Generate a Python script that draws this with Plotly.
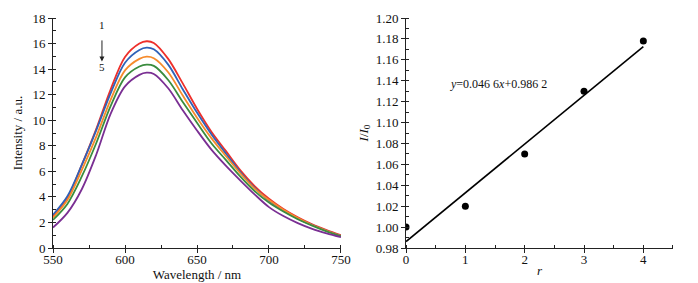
import plotly.graph_objects as go

# ---- data: emission spectra (left) ----
wavelength = [550, 560, 570, 580, 590, 600, 610, 615, 620, 630, 640, 650, 660, 670, 680, 690, 700, 710, 720, 730, 740, 750]
curve1 = [2.45, 3.9, 6.5, 9.3, 12.4, 14.95, 16.0, 16.18, 16.05, 14.8, 12.9, 10.9, 9.1, 7.6, 6.1, 4.85, 3.85, 3.05, 2.4, 1.85, 1.4, 1.0]
curve2 = [2.6, 4.05, 6.5, 9.2, 12.1, 14.5, 15.5, 15.68, 15.55, 14.35, 12.45, 10.6, 8.9, 7.4, 5.95, 4.7, 3.7, 2.95, 2.3, 1.8, 1.35, 0.95]
curve3 = [2.38, 3.75, 6.1, 8.7, 11.6, 13.9, 14.8, 14.97, 14.85, 13.75, 11.95, 10.2, 8.6, 7.2, 5.85, 4.65, 3.75, 3.0, 2.35, 1.8, 1.35, 0.95]
curve4 = [2.2, 3.45, 5.6, 8.2, 11.1, 13.35, 14.2, 14.35, 14.25, 13.15, 11.45, 9.8, 8.2, 6.9, 5.6, 4.45, 3.55, 2.85, 2.25, 1.75, 1.3, 0.92]
curve5 = [1.6, 2.75, 4.6, 7.3, 10.5, 12.65, 13.55, 13.72, 13.62, 12.5, 10.8, 9.2, 7.7, 6.45, 5.3, 4.2, 3.2, 2.5, 1.95, 1.5, 1.15, 0.85]
curve_colors = ["#ee2f2a", "#2f62b8", "#f68b2c", "#3a8c3e", "#7a2f93"]

# ---- data: linear fit (right) ----
r_values = [0, 1, 2, 3, 4]
ratio_values = [1.00, 1.02, 1.07, 1.13, 1.178]
fit_slope = 0.0466
fit_intercept = 0.9862
fit_x = [0, 4]
fit_label = "<i>y</i>=0.046 6<i>x</i>+0.986 2"

FONT = "Liberation Serif, Times New Roman, serif"

fig = go.Figure()
for ys, c in zip([curve1, curve2, curve3, curve4, curve5], curve_colors):
    fig.add_trace(go.Scatter(x=wavelength, y=ys, mode="lines", line=dict(color=c, width=1.8, shape="spline", smoothing=0.9),
                             xaxis="x", yaxis="y", showlegend=False))

fig.add_trace(go.Scatter(x=fit_x, y=[fit_slope * v + fit_intercept for v in fit_x], mode="lines",
                         line=dict(color="black", width=1.6), xaxis="x2", yaxis="y2", showlegend=False))
fig.add_trace(go.Scatter(x=r_values, y=ratio_values, mode="markers", marker=dict(color="black", size=7),
                         xaxis="x2", yaxis="y2", showlegend=False, cliponaxis=True))

axis_common = dict(showline=True, linecolor="#222", linewidth=1, ticks="outside", ticklen=4, tickcolor="#222",
                   showgrid=False, zeroline=False, automargin=False,
                   tickfont=dict(family=FONT, size=13, color="#111"))
title_font = dict(family=FONT, size=13, color="#111")

fig.update_layout(
    width=698, height=283,
    margin=dict(l=53, r=25, t=18, b=35),
    paper_bgcolor="white", plot_bgcolor="white",
    font=dict(family=FONT, size=13, color="#111"),
    xaxis=dict(domain=[0, 0.4645], range=[550, 750], dtick=50, tick0=550, ticklabelstandoff=-5,
               minor=dict(ticks="inside", ticklen=3, dtick=25, tickcolor="#222"),
               title=dict(text="Wavelength / nm", font=title_font, standoff=0), **axis_common),
    yaxis=dict(domain=[0, 1], range=[0, 18], dtick=2, anchor="x",
               minor=dict(ticks="inside", ticklen=3, dtick=1, tickcolor="#222"),
               title=dict(text="Intensity / a.u.", font=title_font, standoff=6), **axis_common),
    xaxis2=dict(domain=[0.5694, 1], range=[0, 4.5], dtick=1, tick0=0, anchor="y2", ticklabelstandoff=-5,
                minor=dict(ticks="inside", ticklen=3, dtick=0.5, tickcolor="#222"),
                title=dict(text="<i>r</i>", font=title_font, standoff=0), **axis_common),
    yaxis2=dict(domain=[0, 1], range=[0.98, 1.20], dtick=0.02, tick0=0.98, anchor="x2", tickformat=".2f",
                minor=dict(ticks="inside", ticklen=3, dtick=0.01, tickcolor="#222"),
                title=dict(text="<i>I</i>/<i>I</i><sub>0</sub>", font=title_font, standoff=4), **axis_common),
)

# arrow 1 -> 5
fig.add_annotation(x=584, y=14.6, ax=584, ay=16.95, xref="x", yref="y", axref="x", ayref="y",
                   showarrow=True, arrowhead=2, arrowsize=1, arrowwidth=1, arrowcolor="#222", text=" ")
fig.add_annotation(x=584, y=17.45, xref="x", yref="y", text="1", showarrow=False,
                   font=dict(family=FONT, size=11, color="#111"))
fig.add_annotation(x=584, y=14.2, xref="x", yref="y", text="5", showarrow=False,
                   font=dict(family=FONT, size=11, color="#111"))

fig.add_annotation(x=0.7, y=1.137, xref="x2", yref="y2", text=fit_label, showarrow=False, xanchor="left",
                   font=dict(family=FONT, size=12, color="#111"))

fig.write_html("out.html", config={"displayModeBar": False},
               post_script="document.body.style.margin='0';document.body.style.overflow='hidden';")
